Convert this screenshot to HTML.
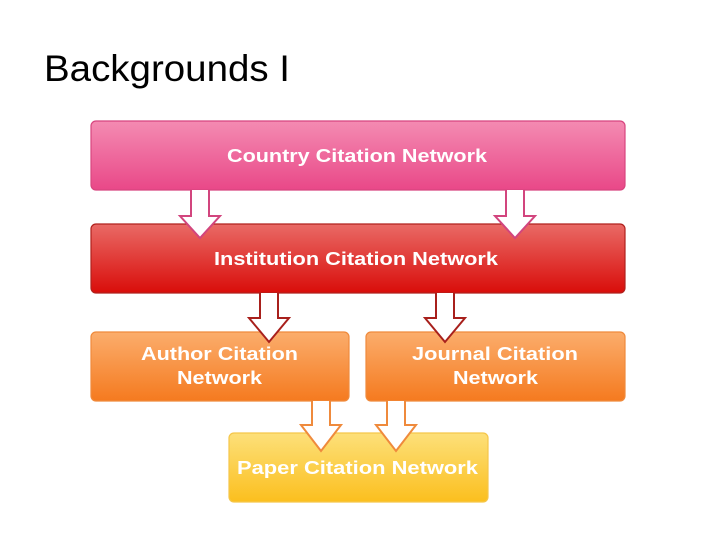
<!DOCTYPE html>
<html><head><style>
body{margin:0;background:#fff;}
</style></head><body>
<svg width="720" height="540" xmlns="http://www.w3.org/2000/svg" style="display:block">
<defs>
<linearGradient id="g1" x1="0" y1="0" x2="0" y2="1"><stop offset="0" stop-color="#f48bb2"/><stop offset="1" stop-color="#e94888"/></linearGradient>
<linearGradient id="g2" x1="0" y1="0" x2="0" y2="1"><stop offset="0" stop-color="#e96a66"/><stop offset="1" stop-color="#d90d0a"/></linearGradient>
<linearGradient id="g3" x1="0" y1="0" x2="0" y2="1"><stop offset="0" stop-color="#fbad6c"/><stop offset="1" stop-color="#f57a1f"/></linearGradient>
<linearGradient id="g4" x1="0" y1="0" x2="0" y2="1"><stop offset="0" stop-color="#fde07a"/><stop offset="1" stop-color="#fbbf1e"/></linearGradient>
</defs>
<text x="44" y="81" font-family="Liberation Sans, sans-serif" font-size="37" fill="#000" textLength="246" lengthAdjust="spacingAndGlyphs">Backgrounds I</text>
<g stroke-width="1.2">
<rect x="91" y="121" width="534" height="69" rx="5" fill="url(#g1)" stroke="#d8457f"/>
<rect x="91" y="224" width="534" height="69" rx="5" fill="url(#g2)" stroke="#b0211d"/>
<rect x="91" y="332" width="258" height="69" rx="5" fill="url(#g3)" stroke="#ef8a3c"/>
<rect x="366" y="332" width="259" height="69" rx="5" fill="url(#g3)" stroke="#ef8a3c"/>
<rect x="229" y="433" width="259" height="69" rx="5" fill="url(#g4)" stroke="#f5c64a"/>
</g>
<g font-family="Liberation Sans, sans-serif" font-weight="bold" font-size="18" fill="#fff">
<text x="227" y="162" textLength="260" lengthAdjust="spacingAndGlyphs">Country Citation Network</text>
<text x="214" y="265" textLength="284" lengthAdjust="spacingAndGlyphs">Institution Citation Network</text>
<text x="141" y="360" textLength="157" lengthAdjust="spacingAndGlyphs">Author Citation</text>
<text x="177" y="384" textLength="85" lengthAdjust="spacingAndGlyphs">Network</text>
<text x="412" y="360" textLength="166" lengthAdjust="spacingAndGlyphs">Journal Citation</text>
<text x="453" y="384" textLength="85" lengthAdjust="spacingAndGlyphs">Network</text>
<text x="237" y="474" textLength="241" lengthAdjust="spacingAndGlyphs">Paper Citation Network</text>
</g>
<g fill="#fff" stroke-width="2" stroke-linejoin="miter">
<path d="M191 190 V216 H180 L200 238 L220 216 H209 V190" stroke="#d2457e"/>
<path d="M506 190 V216 H495 L515 238 L535 216 H524 V190" stroke="#d2457e"/>
<path d="M260 293 V318 H249 L269 342 L289 318 H278 V293" stroke="#a8201c"/>
<path d="M436 293 V318 H425 L445 342 L465 318 H454 V293" stroke="#a8201c"/>
<path d="M312 401 V425 H301 L321 451 L341 425 H330 V401" stroke="#ef8a3c"/>
<path d="M387 401 V425 H376 L396 451 L416 425 H405 V401" stroke="#ef8a3c"/>
</g>
</svg>
</body></html>
